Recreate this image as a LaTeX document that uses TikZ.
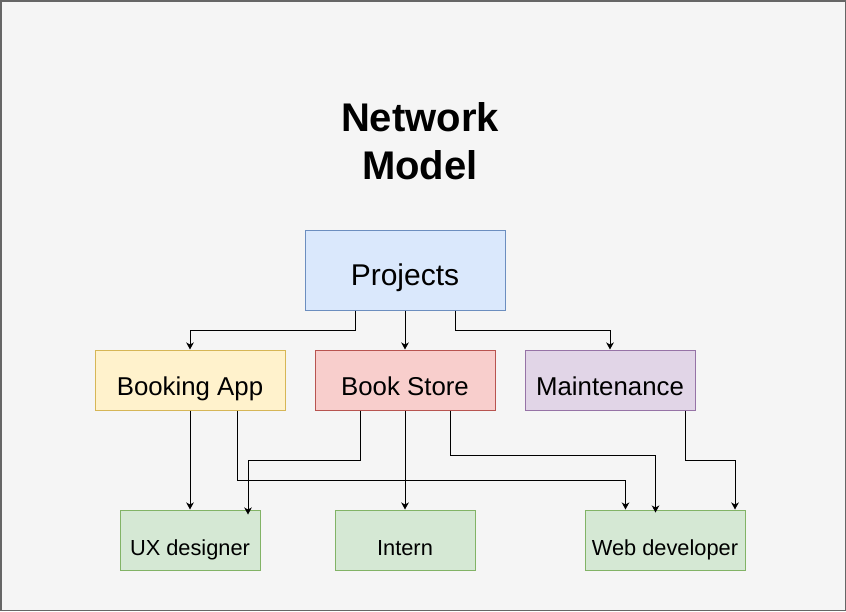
\documentclass[tikz,border=0pt]{standalone}
\usepackage{fontspec}
\setmainfont{Liberation Sans}
\usetikzlibrary{arrows.meta}
\definecolor{bgcol}{HTML}{F5F5F5}
\definecolor{framecol}{HTML}{666666}
\definecolor{blueFill}{HTML}{DAE8FC}
\definecolor{blueLine}{HTML}{6C8EBF}
\definecolor{yellowFill}{HTML}{FFF2CC}
\definecolor{yellowLine}{HTML}{D6B656}
\definecolor{redFill}{HTML}{F8CECC}
\definecolor{redLine}{HTML}{B85450}
\definecolor{purpleFill}{HTML}{E1D5E7}
\definecolor{purpleLine}{HTML}{9673A6}
\definecolor{greenFill}{HTML}{D5E8D4}
\definecolor{greenLine}{HTML}{82B366}
\begin{document}
\begin{tikzpicture}[x=1pt,y=-1pt,
    box/.style={draw,line width=1pt,inner sep=0pt,text height=30pt,text depth=0pt},
    link/.style={-{Stealth[length=7pt,width=7.5pt,inset=2pt]},line width=1pt}]
    \useasboundingbox (0,0) rectangle (846,611);
    \draw[fill=bgcol,draw=framecol,line width=1.5pt] (0.75,0.75) rectangle (845.25,610.25);
    \node[align=center,inner sep=0pt,font=\bfseries\fontsize{40}{48}\selectfont] (title) at (420,141.3) {Network\\Model};
    % top level
    \node[box,fill=blueFill,draw=blueLine,minimum width=200pt,minimum height=80pt,font=\fontsize{30}{36}\selectfont] (proj) at (405,270) {Projects};
    % middle level
    \node[box,fill=yellowFill,draw=yellowLine,minimum width=190pt,minimum height=60pt,font=\fontsize{25.8}{31}\selectfont] (booking) at (190,380) {Booking App};
    \node[box,fill=redFill,draw=redLine,minimum width=180pt,minimum height=60pt,font=\fontsize{25.8}{31}\selectfont] (store) at (405,380) {Book Store};
    \node[box,fill=purpleFill,draw=purpleLine,minimum width=170pt,minimum height=60pt,font=\fontsize{25.8}{31}\selectfont] (maint) at (610,380) {Maintenance};
    % bottom level
    \node[box,fill=greenFill,draw=greenLine,minimum width=140pt,minimum height=60pt,font=\fontsize{21.8}{26}\selectfont] (ux) at (190,540) {UX designer};
    \node[box,fill=greenFill,draw=greenLine,minimum width=140pt,minimum height=60pt,font=\fontsize{21.8}{26}\selectfont] (intern) at (405,540) {Intern};
    \node[box,fill=greenFill,draw=greenLine,minimum width=160pt,minimum height=60pt,font=\fontsize{21.8}{26}\selectfont] (webdev) at (665,540) {Web developer};
    % connectors
    \draw[link] ([xshift=-50pt]proj.south) -- ++(0,20) -| (booking.north);
    \draw[link] (proj.south) -- (store.north);
    \draw[link] ([xshift=50pt]proj.south) -- ++(0,20) -| (maint.north);
    \draw[link] (booking.south) -- (ux.north);
    \draw[link] ([xshift=47.5pt]booking.south) -- ++(0,70) -| ([xshift=-39.5pt]webdev.north);
    \draw[link] ([xshift=-45pt]store.south) -- ++(0,50) -| ([xshift=58pt,yshift=-5pt]ux.north);
    \draw[link] (store.south) -- (intern.north);
    \draw[link] ([xshift=45pt]store.south) -- ++(0,45) -| ([xshift=-9.5pt,yshift=-3pt]webdev.north);
    \draw[link] ([xshift=75pt]maint.south) -- ++(0,50) -| ([xshift=70pt]webdev.north);
\end{tikzpicture}
\end{document}
